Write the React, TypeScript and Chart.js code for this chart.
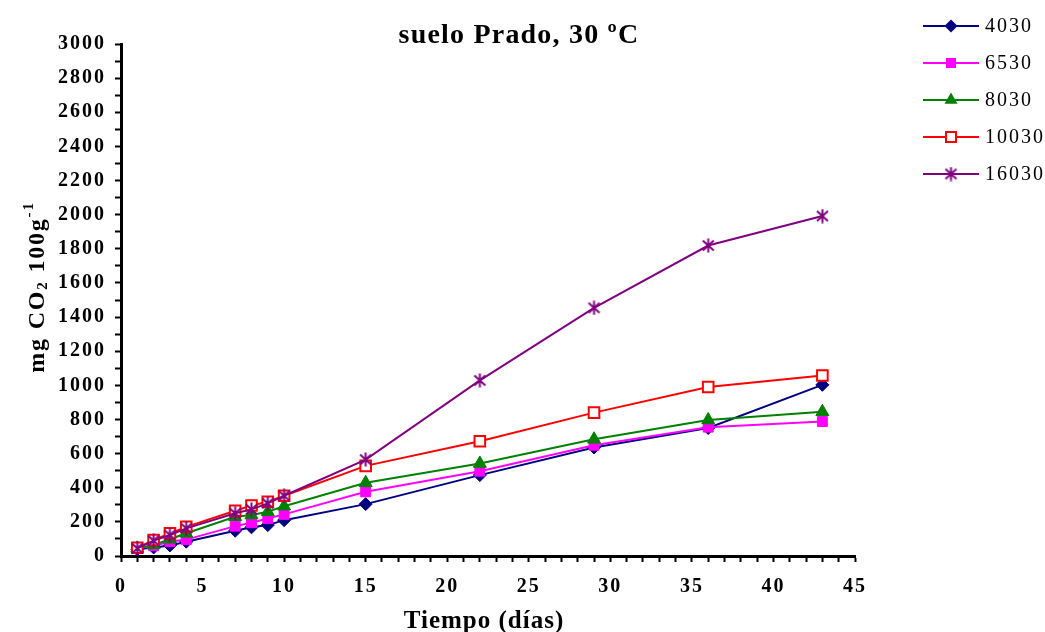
import React, { useEffect, useRef } from 'react';
import { Chart, registerables } from 'chart.js';

Chart.register(...registerables);

const TITLE = 'suelo Prado, 30 ºC';
const X_TITLE = 'Tiempo (días)';
const SERIES_LABELS = ['4030', '6530', '8030', '10030', '16030'];

const days = [1, 2, 3, 4, 7, 8, 9, 10, 15, 22, 29, 36, 43];
const s4030 = [40, 50, 62, 84, 148, 168, 181, 210, 304, 474, 636, 750, 1003];
const s6530 = [44, 60, 84, 96, 175, 195, 220, 244, 376, 497, 649, 755, 788];
const s8030 = [45, 65, 98, 133, 230, 240, 259, 292, 429, 542, 684, 797, 845];
const s10030 = [48, 94, 133, 171, 265, 296, 318, 353, 528, 672, 840, 990, 1058];
const s16030 = [45, 90, 123, 162, 250, 273, 308, 353, 565, 1029, 1454, 1819, 1992];

const xTicksMax = 45;
const yTicksMax = 3000;

const COLORS = ['#000080', '#FF00FF', '#008000', '#FF0000', '#800080'];
const FONT = '"Liberation Serif", "Times New Roman", Times, serif';

function makeStar(color: string): HTMLCanvasElement {
  const c = document.createElement('canvas');
  c.width = 15;
  c.height = 15;
  const g = c.getContext('2d')!;
  g.strokeStyle = color;
  g.lineWidth = 2;
  g.beginPath();
  g.moveTo(2, 2.5); g.lineTo(13, 12.5);
  g.moveTo(13, 2.5); g.lineTo(2, 12.5);
  g.moveTo(7.5, 0.5); g.lineTo(7.5, 14.5);
  g.stroke();
  return c;
}

function drawMarker(ctx: CanvasRenderingContext2D, kind: number, x: number, y: number, star: HTMLCanvasElement) {
  const color = COLORS[kind];
  ctx.save();
  ctx.fillStyle = color;
  ctx.strokeStyle = color;
  ctx.beginPath();
  if (kind === 0) {
    const r = 6.5;
    ctx.moveTo(x - r, y); ctx.lineTo(x, y - r); ctx.lineTo(x + r, y); ctx.lineTo(x, y + r);
    ctx.closePath(); ctx.fill();
  } else if (kind === 1) {
    ctx.rect(x - 5, y - 5, 10, 10); ctx.fill();
  } else if (kind === 2) {
    const r = 7.5;
    ctx.moveTo(x, y - r);
    ctx.lineTo(x + r * Math.sin(2 * Math.PI / 3), y - r * Math.cos(2 * Math.PI / 3));
    ctx.lineTo(x + r * Math.sin(4 * Math.PI / 3), y - r * Math.cos(4 * Math.PI / 3));
    ctx.closePath(); ctx.fill();
  } else if (kind === 3) {
    ctx.fillStyle = '#fff';
    ctx.lineWidth = 2;
    ctx.rect(x - 5, y - 5, 10, 10); ctx.fill(); ctx.stroke();
  } else {
    ctx.drawImage(star, x - star.width / 2, y - star.height / 2);
  }
  ctx.restore();
}

export default function App() {
  const ref = useRef<HTMLCanvasElement | null>(null);

  useEffect(() => {
    document.body.style.margin = '0';
    const canvas = ref.current!;
    const star = makeStar(COLORS[4]);
    const seriesValues = [s4030, s6530, s8030, s10030, s16030];
    const pointStyles: any[] = ['rectRot', 'rect', 'triangle', 'rect', star];
    const radii = [6.5, 7, 7.5, 7.5, 7.5];

    const datasets = seriesValues.map((vals, i) => ({
      label: SERIES_LABELS[i],
      data: days.map((d, j) => ({ x: d, y: vals[j] })),
      borderColor: COLORS[i],
      backgroundColor: COLORS[i],
      borderWidth: 2,
      pointStyle: pointStyles[i],
      pointRadius: radii[i],
      pointHoverRadius: radii[i],
      pointBackgroundColor: i === 3 ? '#FFFFFF' : COLORS[i],
      pointBorderColor: COLORS[i],
      pointBorderWidth: i === 3 ? 2 : 1,
      tension: 0,
      order: 5 - i,
    }));

    const decor = {
      id: 'decor',
      beforeDraw(chart: any) {
        chart.ctx.letterSpacing = '2px';
      },
      afterDraw(chart: any) {
        const ctx: CanvasRenderingContext2D = chart.ctx;
        ctx.save();
        ctx.fillStyle = '#000';
        // title
        (ctx as any).letterSpacing = '1.2px';
        ctx.font = `bold 28px ${FONT}`;
        ctx.textAlign = 'center';
        ctx.textBaseline = 'alphabetic';
        ctx.fillText(TITLE, 519, 43);
        // x title
        (ctx as any).letterSpacing = '1px';
        ctx.font = `bold 25px ${FONT}`;
        ctx.fillText(X_TITLE, 484, 628);
        // y title
        ctx.save();
        ctx.translate(44, 287);
        ctx.rotate(-Math.PI / 2);
        ctx.textAlign = 'left';
        (ctx as any).letterSpacing = '1.8px';
        const big = `bold 24px ${FONT}`;
        const small = `bold 15px ${FONT}`;
        const parts: [string, string, number][] = [
          ['mg CO', big, 0],
          ['2', small, 3],
          [' 100g', big, 0],
          ['-1', small, -11],
        ];
        let total = 0;
        for (const [t, f] of parts) { ctx.font = f; total += ctx.measureText(t).width; }
        let px = -total / 2;
        for (const [t, f, dy] of parts) {
          ctx.font = f;
          ctx.fillText(t, px, dy);
          px += ctx.measureText(t).width;
        }
        ctx.restore();
        // legend
        (ctx as any).letterSpacing = '2px';
        ctx.font = `20px ${FONT}`;
        ctx.textAlign = 'left';
        ctx.textBaseline = 'middle';
        SERIES_LABELS.forEach((lab, i) => {
          const y = 26 + i * 37;
          ctx.strokeStyle = COLORS[i];
          ctx.lineWidth = 2;
          ctx.beginPath();
          ctx.moveTo(923, y);
          ctx.lineTo(979, y);
          ctx.stroke();
          drawMarker(ctx, i, 951, y, star);
          ctx.fillStyle = '#000';
          ctx.fillText(lab, 985, y + 1);
        });
        ctx.restore();
        (ctx as any).letterSpacing = '0px';
      },
    };

    const tickFont = { family: FONT, size: 20, weight: 'bold' as const };

    const chart = new Chart(canvas, {
      type: 'line',
      data: { datasets },
      options: {
        animation: false,
        responsive: false,
        maintainAspectRatio: false,
        events: [],
        layout: { padding: { top: 44, right: 190, bottom: 0, left: 0 } },
        plugins: { legend: { display: false }, tooltip: { enabled: false }, title: { display: false } },
        scales: {
          x: {
            type: 'linear',
            min: 0,
            max: xTicksMax,
            afterFit: (s: any) => { s.height = 76; },
            ticks: {
              stepSize: 1,
              autoSkip: false,
              maxRotation: 0,
              minRotation: 0,
              color: '#000',
              font: tickFont,
              padding: 13,
              callback: (v: any) => (Number(v) % 5 === 0 ? String(v) : ''),
            },
            grid: { drawOnChartArea: false, drawTicks: true, tickLength: 6, tickColor: '#000', tickWidth: 2 },
            border: { display: true, color: '#000', width: 3 },
          },
          y: {
            type: 'linear',
            min: 0,
            max: yTicksMax,
            afterFit: (s: any) => { s.width = 121; },
            ticks: {
              stepSize: 100,
              autoSkip: false,
              color: '#000',
              font: tickFont,
              padding: 9,
              callback: (v: any) => (Number(v) % 200 === 0 ? String(v) : ''),
            },
            grid: { drawOnChartArea: false, drawTicks: true, tickLength: 6, tickColor: '#000', tickWidth: 2 },
            border: { display: true, color: '#000', width: 3 },
          },
        },
      },
      plugins: [decor],
    } as any);

    return () => chart.destroy();
  }, []);

  return (
    <div style={{ position: 'absolute', left: 0, top: 0, width: 1045, height: 632 }}>
      <canvas ref={ref} width={1045} height={632} style={{ width: 1045, height: 632, display: 'block' }} />
    </div>
  );
}
